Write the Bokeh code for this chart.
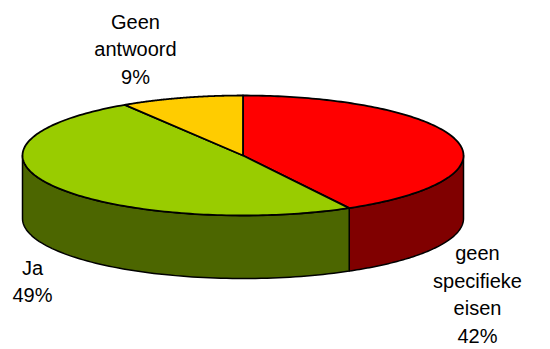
import numpy as np
from bokeh.plotting import figure
from bokeh.models import Range1d
from bokeh.core.properties import value
from bokeh.embed import file_html
from bokeh.resources import INLINE

# Data
labels = ["geen\nspecifieke\neisen", "Ja", "Geen\nantwoord"]
percents = [42, 49, 9]
top_colors = ["#FF0000", "#99CC00", "#FFCC00"]
side_colors = ["#800000", "#4C6600", "#997A00"]

W, H = 550, 349
p = figure(width=W, height=H, output_backend="svg", toolbar_location=None,
           x_range=Range1d(0, W), y_range=Range1d(H, 0), min_border=0)
p.axis.visible = False
p.grid.visible = False
p.outline_line_color = None
p.background_fill_color = "white"
p.border_fill_color = "white"

cx, cy, a, b, depth = 242.5, 155.0, 220.5, 60.0, 63.0

def pt(t_deg, dy=0.0):
    t = np.radians(t_deg)
    return cx + a * np.sin(t), cy - b * np.cos(t) + dy

fr = np.array(percents, dtype=float) / sum(percents)
ends = np.cumsum(fr) * 360.0
starts = np.concatenate([[0.0], ends[:-1]])

# side walls (visible front half: 90..270 deg)
sx, sy, sc = [], [], []
for s, e, c in zip(starts, ends, side_colors):
    lo, hi = max(s, 90.0), min(e, 270.0)
    if hi <= lo:
        continue
    ts = np.linspace(lo, hi, 80)
    xt, yt = pt(ts)
    xb, yb = pt(ts[::-1], depth)
    sx.append(list(xt) + list(xb))
    sy.append(list(yt) + list(yb))
    sc.append(c)
p.patches(sx, sy, fill_color=sc, line_color="black", line_width=1.5, line_join="round")

# top wedges
wx, wy = [], []
for s, e in zip(starts, ends):
    ts = np.linspace(s, e, 150)
    xs, ys = pt(ts)
    wx.append([cx] + list(xs))
    wy.append([cy] + list(ys))
p.patches(wx, wy, fill_color=top_colors, line_color="black", line_width=1.8, line_join="round")

# labels
texts = [f"{l}\n{v}%" for l, v in zip(labels, percents)]
lx = [477, 32, 135]
ly = [294, 281, 49]
p.text(x=lx, y=ly, text=texts, text_align="center", text_baseline="middle",
       text_font=value("Liberation Sans"), text_font_size="20px",
       text_color="black", text_line_height=1.26)

open("out.html", "w").write(file_html(p, INLINE))
